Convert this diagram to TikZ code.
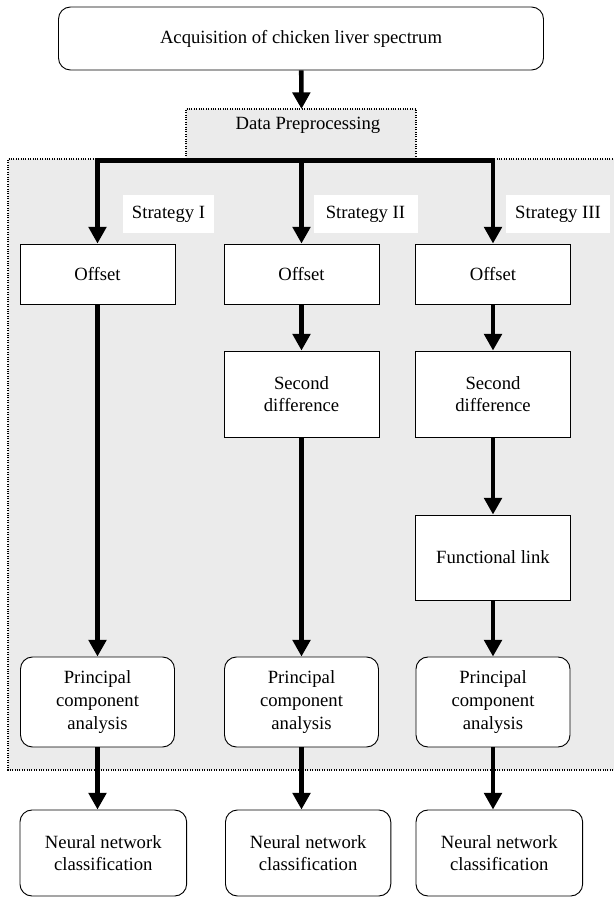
\documentclass[tikz,border=0pt]{standalone}
\usepackage{fontspec}
\setmainfont{Liberation Serif}
\usetikzlibrary{arrows.meta}
\definecolor{prepgray}{RGB}{235,235,235}

\begin{document}
\begin{tikzpicture}[x=0.75pt, y=-0.75pt,
    font=\fontsize{14}{17}\selectfont,
    box/.style={draw, fill=white, line width=0.7pt, align=center, minimum width=116.25pt, inner sep=0pt},
    roundbox/.style={box, rounded corners=9pt},
    tag/.style={fill=white, minimum width=78pt, minimum height=28.5pt, inner sep=0pt},
    flow/.style={line width=3.4pt, -{Triangle[width=13pt,length=12.5pt]}}]
    \useasboundingbox (0,0) rectangle (613,898);
    \fill[white] (0,0) rectangle (613,898);
    \draw[fill=prepgray, densely dotted, line width=0.8pt]
      (630,770) -- (8,770) -- (8,159) -- (186,159) -- (186,109) -- (416,109) -- (416,159) -- (630,159);

    \node[roundbox, minimum width=363.75pt, minimum height=47.25pt] (acq) at (301,38.5) {Acquisition of chicken liver spectrum};
    \node (prep) at (308,125) {Data Preprocessing};
    \coordinate (preptop) at (301.5,109);
    \coordinate (fork) at (301.5,160.7);

    \node[tag, minimum width=68.25pt] (tag1) at (168.5,214) {Strategy I};
    \node[tag] (tag2) at (365.5,214) {Strategy II};
    \node[tag] (tag3) at (558,214) {Strategy III};

    \node[box, minimum height=45pt] (off1) at ( 97.5,274) {Offset};
    \node[box, minimum height=45pt] (off2) at (301.5,274) {Offset};
    \node[box, minimum height=45pt] (off3) at (493,274) {Offset};
    \node[box, minimum height=64.5pt] (sd2) at (301.5,394) {Second\\difference};
    \node[box, minimum height=64.5pt] (sd3) at (493,394) {Second\\difference};
    \node[box, minimum height=63.75pt] (fl3) at (493,557.5) {Functional link};

    \node[roundbox, minimum width=115.5pt, minimum height=67.5pt] (pca1) at ( 97.5,702) {Principal\\component\\analysis};
    \node[roundbox, minimum width=115.5pt, minimum height=67.5pt] (pca2) at (301.5,702) {Principal\\component\\analysis};
    \node[roundbox, minimum width=115.5pt, minimum height=67.5pt] (pca3) at (493,702) {Principal\\component\\analysis};

    \node[roundbox, anchor=west, minimum width=125pt, minimum height=64.5pt] (nn1) at ( 19.5,853) {Neural network\\classification};
    \node[roundbox, anchor=west, minimum width=124pt, minimum height=64.5pt] (nn2) at (225,853) {Neural network\\classification};
    \node[roundbox, anchor=west, minimum width=125pt, minimum height=64.5pt] (nn3) at (415.5,853) {Neural network\\classification};

    \draw[flow] (acq) -- (preptop);
    \draw[flow] (fork) -| (off1);
    \draw[flow] (fork) -| (off3);
    \draw[flow] (fork) -- (off2);
    \draw[flow] (off1) -- (pca1);
    \draw[flow] (off2) -- (sd2);
    \draw[flow] (sd2) -- (pca2);
    \draw[flow] (off3) -- (sd3);
    \draw[flow] (sd3) -- (fl3);
    \draw[flow] (fl3) -- (pca3);
    \draw[flow] (pca1) -- (pca1 |- nn1.north);
    \draw[flow] (pca2) -- (pca2 |- nn2.north);
    \draw[flow] (pca3) -- (pca3 |- nn3.north);
\end{tikzpicture}
\end{document}
